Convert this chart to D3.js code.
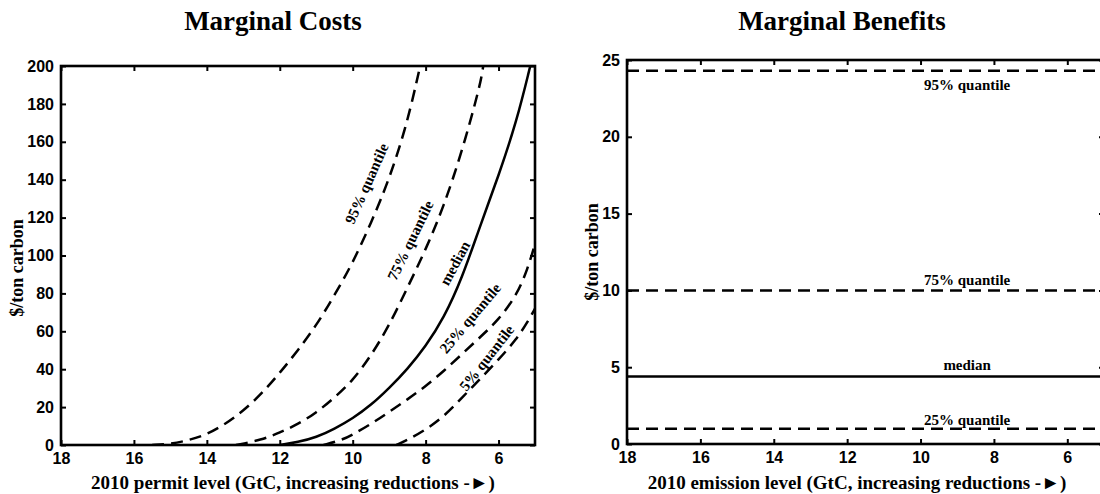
<!DOCTYPE html>
<html>
<head>
<meta charset="utf-8">
<script src="https://cdn.jsdelivr.net/npm/d3@7"></script>
<style>
  html, body { margin: 0; padding: 0; background: #fff; }
  svg { display: block; }
  .tick text { font-family: "Liberation Sans", Arial, sans-serif; font-weight: bold; font-size: 16px; fill: #000; }
  .title { font-family: "Liberation Serif", "Times New Roman", serif; font-weight: bold; font-size: 27px; fill: #000; }
  .axlabel { font-family: "Liberation Serif", "Times New Roman", serif; font-weight: bold; font-size: 19px; fill: #000; }
  .ylabel { font-family: "Liberation Serif", "Times New Roman", serif; font-weight: bold; font-size: 18px; fill: #000; }
  .curvelabel { font-family: "Liberation Serif", "Times New Roman", serif; font-weight: bold; font-size: 15px; fill: #000; }
</style>
</head>
<body>
<svg id="chart" width="1100" height="494"></svg>
<script>
// ---- Marginal cost curves (x = 2010 permit level, GtC; y = $/ton carbon) ----
const costX95 = [15.5, 15, 14.5, 14, 13.5, 13, 12.5, 12, 11.5, 11, 10.5, 10, 9.5, 9, 8.5, 8.15];
const cost95  = [0, 0.5, 2.5, 5.5, 11, 18, 27, 38, 50, 63, 79, 96, 117, 140, 170, 200];

const costX75 = [13.2, 12.5, 12, 11.5, 11, 10.5, 10, 9.5, 9, 8.5, 8, 7.5, 7, 6.5, 6.42];
const cost75  = [0, 2.7, 6.5, 11, 17, 25, 34, 47, 63, 83, 103, 126, 155, 190, 200];

const costXMed = [12, 11.5, 11, 10.5, 10, 9.5, 9, 8.5, 8, 7.5, 7, 6.5, 6, 5.5, 5.13];
const costMed  = [0, 1.5, 4, 8.5, 14, 21, 30, 40, 52, 67, 88, 116, 142, 171, 200];

const costX25 = [10.8, 10.3, 10, 9.5, 9, 8.5, 8, 7.5, 7, 6.5, 6, 5.5, 5.2, 5];
const cost25  = [0, 2.6, 5.5, 11, 17.5, 24, 31, 39, 48, 57, 66, 79, 93, 106];

const costX05 = [8.8, 8.5, 8, 7.5, 7, 6.5, 6, 5.5, 5.2, 5];
const cost05  = [0, 2.6, 8, 15, 25, 35, 45, 56, 65, 72];

// ---- Marginal benefit levels (flat across emission levels) ----
const benefitX   = [18, 5];
const benefit95  = [24.3, 24.3];
const benefit75  = [10.0, 10.0];
const benefitMed = [4.4, 4.4];
const benefit25  = [1.0, 1.0];

// ---- Tick values and text ----
const xTicks      = [18, 16, 14, 12, 10, 8, 6];
const costYTicks  = [0, 20, 40, 60, 80, 100, 120, 140, 160, 180, 200];
const benYTicks   = [0, 5, 10, 15, 20, 25];
const costTitle   = "Marginal Costs";
const benTitle    = "Marginal Benefits";
const yLabel      = "$/ton carbon";
const costXLabel  = "2010 permit level (GtC, increasing reductions -\u25BA)";
const benXLabel   = "2010 emission level (GtC, increasing reductions -\u25BA)";

const svg = d3.select("#chart");
const DASH = "12,7";

function zipPts(xs, ys) { return xs.map((x, i) => [x, ys[i]]); }

function drawPanel(opts) {
  const { x0, x1, y0, y1, xDomain, yDomain, yTicks, id } = opts;
  const x = d3.scaleLinear().domain(xDomain).range([x0, x1]);
  const y = d3.scaleLinear().domain(yDomain).range([y1, y0]);
  const g = svg.append("g");

  g.append("clipPath").attr("id", id)
    .append("rect").attr("x", x0).attr("y", y0).attr("width", x1 - x0).attr("height", y1 - y0);

  // inward ticks on all four sides
  const tl = 5;
  const bottom = d3.axisBottom(x).tickValues(xTicks).tickSize(-tl).tickPadding(tl + 3).tickFormat(d3.format("d"));
  const top = d3.axisTop(x).tickValues(xTicks).tickSize(-tl).tickFormat("");
  const left = d3.axisLeft(y).tickValues(yTicks).tickSize(-tl).tickPadding(tl + 2).tickFormat(d3.format("d"));
  const right = d3.axisRight(y).tickValues(yTicks).tickSize(-tl).tickFormat("");

  [[bottom, `translate(0,${y1})`], [top, `translate(0,${y0})`],
   [left, `translate(${x0},0)`], [right, `translate(${x1},0)`]].forEach(([ax, tr]) => {
    const a = g.append("g").attr("transform", tr).call(ax);
    a.select(".domain").remove();
    a.selectAll(".tick line").attr("stroke", "#000").attr("stroke-width", 2);
  });

  g.append("rect").attr("x", x0).attr("y", y0).attr("width", x1 - x0).attr("height", y1 - y0)
    .attr("fill", "none").attr("stroke", "#000").attr("stroke-width", 2.6);

  return { g, x, y };
}

// ---------- Left panel: marginal costs ----------
const L = drawPanel({ x0: 61, x1: 535, y0: 66, y1: 445, xDomain: [18, 5], yDomain: [0, 200], yTicks: costYTicks, id: "clipL" });
const lineL = d3.line().x(d => L.x(d[0])).y(d => L.y(d[1])).curve(d3.curveBasis);
[
  [costX95, cost95, DASH], [costX75, cost75, DASH], [costXMed, costMed, null],
  [costX25, cost25, DASH], [costX05, cost05, DASH]
].forEach(([xs, ys, dash]) => {
  L.g.append("path").attr("d", lineL(zipPts(xs, ys)))
    .attr("clip-path", "url(#clipL)")
    .attr("fill", "none").attr("stroke", "#000").attr("stroke-width", 2.5)
    .attr("stroke-dasharray", dash);
});

// curve labels, rotated along each curve
[
  ["95% quantile", 9.62, 138, -66],
  ["75% quantile", 8.42, 108, -64],
  ["median", 7.2, 96, -62],
  ["25% quantile", 6.78, 67, -50],
  ["5% quantile", 6.33, 46, -52]
].forEach(([t, xv, yv, ang]) => {
  L.g.append("text").attr("class", "curvelabel")
    .attr("transform", `translate(${L.x(xv)},${L.y(yv)}) rotate(${ang})`)
    .attr("text-anchor", "middle").attr("dy", "0.35em").text(t);
});

svg.append("text").attr("class", "title").attr("x", 273).attr("y", 30).attr("text-anchor", "middle").text(costTitle);
svg.append("text").attr("class", "axlabel").attr("x", 293).attr("y", 489).attr("text-anchor", "middle").text(costXLabel);
svg.append("text").attr("class", "ylabel").attr("transform", "translate(23,268) rotate(-90)").attr("text-anchor", "middle").text(yLabel);

// ---------- Right panel: marginal benefits ----------
const R = drawPanel({ x0: 627, x1: 1104, y0: 60, y1: 444, xDomain: [18, 5], yDomain: [0, 25], yTicks: benYTicks, id: "clipR" });
const lineR = d3.line().x(d => R.x(d[0])).y(d => R.y(d[1]));
[
  [benefit95, DASH], [benefit75, DASH], [benefitMed, null], [benefit25, DASH]
].forEach(([ys, dash]) => {
  R.g.append("path").attr("d", lineR(zipPts(benefitX, ys)))
    .attr("fill", "none").attr("stroke", "#000").attr("stroke-width", 2.5)
    .attr("stroke-dasharray", dash);
});
const benLabelX = 8.73;
[
  ["95% quantile", benefit95[0], 19],
  ["75% quantile", benefit75[0], -5],
  ["median", benefitMed[0], -6],
  ["25% quantile", benefit25[0], -4]
].forEach(([t, v, dy]) => {
  R.g.append("text").attr("class", "curvelabel")
    .attr("x", R.x(benLabelX)).attr("y", R.y(v) + dy)
    .attr("text-anchor", "middle").text(t);
});

svg.append("text").attr("class", "title").attr("x", 842).attr("y", 30).attr("text-anchor", "middle").text(benTitle);
svg.append("text").attr("class", "axlabel").attr("x", 857).attr("y", 489).attr("text-anchor", "middle").text(benXLabel);
svg.append("text").attr("class", "ylabel").attr("transform", "translate(598,252) rotate(-90)").attr("text-anchor", "middle").text(yLabel);
</script>
</body>
</html>
